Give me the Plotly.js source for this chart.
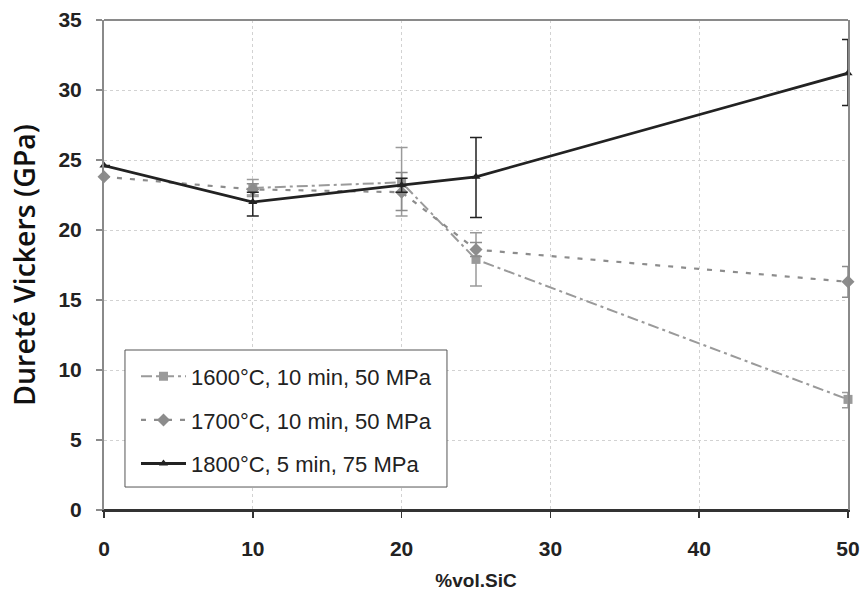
<!DOCTYPE html>
<html>
<head>
<meta charset="utf-8">
<script src="https://cdn.plot.ly/plotly-3.0.1.min.js"></script>
<style>html,body{margin:0;padding:0;background:#fff;}#chart{width:864px;height:592px;}</style>
</head>
<body>
<div id="chart"></div>
<script>
// ---- data ----
const seriesNames = ["1600°C, 10 min, 50 MPa", "1700°C, 10 min, 50 MPa", "1800°C, 5 min, 75 MPa"];

const x1600 = [10, 20, 25, 50];
const y1600 = [23.0, 23.4, 17.9, 7.9];
const e1600Plus = [0.6, 2.5, 1.9, 0.5];
const e1600Minus = [0.6, 2.4, 1.9, 0.6];

const x1700 = [0, 10, 20, 25, 50];
const y1700 = [23.8, 22.9, 22.7, 18.6, 16.3];
const e1700Plus = [0, 0.4, 1.4, 0.5, 1.1];
const e1700Minus = [0, 0.4, 1.3, 0.5, 1.1];

const x1800 = [0, 10, 20, 25, 50];
const y1800 = [24.6, 22.0, 23.2, 23.8, 31.2];
const e1800Plus = [0, 0.7, 0.5, 2.8, 2.4];
const e1800Minus = [0, 1.0, 0.5, 2.9, 2.3];

const xTicks = [0, 10, 20, 30, 40, 50];
const yTicks = [0, 5, 10, 15, 20, 25, 30, 35];

// ---- traces ----
const t1600 = {
  x: x1600, y: y1600, name: seriesNames[0], type: 'scatter', mode: 'lines+markers',
  legendgroup: 'a', cliponaxis: false,
  line: {color: '#9a9a9a', width: 2, dash: '11px,4px,3px,4px'},
  marker: {symbol: 'square', size: 9, color: '#9a9a9a'},
  error_y: {type: 'data', symmetric: false, array: e1600Plus, arrayminus: e1600Minus, color: '#9a9a9a', thickness: 1.5, width: 6}
};
const t1700 = {
  x: x1700, y: y1700, name: seriesNames[1], type: 'scatter', mode: 'lines+markers',
  legendgroup: 'b', cliponaxis: false,
  line: {color: '#8c8c8c', width: 2.2, dash: '5px,8px'},
  marker: {symbol: 'diamond', size: 10, color: '#8c8c8c'},
  error_y: {type: 'data', symmetric: false, array: e1700Plus, arrayminus: e1700Minus, color: '#8c8c8c', thickness: 1.5, width: 6}
};
const t1800 = {
  x: x1800, y: y1800, name: seriesNames[2], type: 'scatter', mode: 'lines+markers',
  legendgroup: 'c', cliponaxis: false,
  line: {color: '#222222', width: 2.8},
  marker: {symbol: 'triangle-up', size: 8, color: '#222222'},
  error_y: {type: 'data', symmetric: false, array: e1800Plus, arrayminus: e1800Minus, color: '#222222', thickness: 1.5, width: 6}
};

const layout = {
  width: 864, height: 592,
  margin: {l: 104, r: 16, t: 20, b: 82},
  paper_bgcolor: '#ffffff', plot_bgcolor: '#ffffff',
  showlegend: true,
  legend: {
    x: 0.043, y: 0.052, xanchor: 'left', yanchor: 'bottom',
    bgcolor: 'rgba(0,0,0,0)', borderwidth: 0,
    font: {family: 'Liberation Sans, Arial, sans-serif', size: 22, color: '#222'},
    traceorder: 'grouped', tracegroupgap: 12, itemwidth: 45
  },
  xaxis: {
    range: [0, 50], tickvals: xTicks, ticktext: xTicks.map(String),
    showgrid: true, gridcolor: '#d2d2d2', griddash: 'dot', gridwidth: 1,
    zeroline: false, showline: true, linecolor: '#333333', linewidth: 2,
    ticks: 'outside', ticklen: 6, tickcolor: '#333333', tickwidth: 1.5,
    ticklabelstandoff: 13,
    tickfont: {family: 'Liberation Sans, Arial, sans-serif', size: 21, color: '#222', weight: 'bold'},
    title: {text: '%vol.SiC', standoff: 14, font: {family: 'Liberation Sans, Arial, sans-serif', size: 19, color: '#222', weight: 'bold'}}
  },
  yaxis: {
    range: [0, 35], tickvals: yTicks, ticktext: yTicks.map(String),
    showgrid: true, gridcolor: '#d2d2d2', griddash: 'dot', gridwidth: 1,
    zeroline: false, showline: true, linecolor: '#8a8a8a', linewidth: 2, mirror: true,
    ticks: 'outside', ticklen: 6, tickcolor: '#8a8a8a', tickwidth: 1.5,
    ticklabelstandoff: 10,
    tickfont: {family: 'Liberation Sans, Arial, sans-serif', size: 21, color: '#222', weight: 'bold'},
    title: {text: 'Dureté Vickers (GPa)', standoff: 14, font: {family: 'Open Sans, Noto Sans, sans-serif', size: 28.5, color: '#111', weight: 600}}
  },
  shapes: [
    {type: 'line', xref: 'paper', yref: 'paper', x0: 0, x1: 1, y0: 1, y1: 1, line: {color: '#8a8a8a', width: 2}},
    {type: 'line', xref: 'paper', yref: 'paper', x0: 0, x1: 1, y0: 0, y1: 0, line: {color: '#333333', width: 2}},
    {type: 'rect', xref: 'paper', yref: 'paper', layer: 'above', x0: 0.0282, x1: 0.461, y0: 0.0469, y1: 0.3265,
     fillcolor: '#ffffff', line: {color: '#555555', width: 1}}
  ]
};

Plotly.newPlot('chart', [t1600, t1700, t1800], layout, {displayModeBar: false, staticPlot: true});
</script>
</body>
</html>
